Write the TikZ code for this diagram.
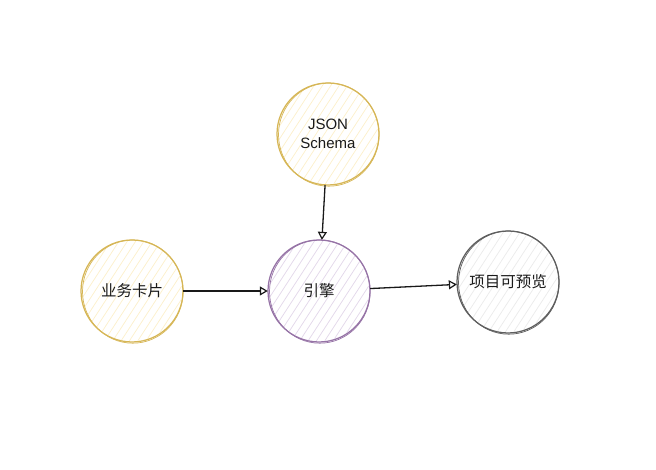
\documentclass[tikz,border=0pt]{standalone}
\usepackage{fontspec}
\setmainfont{Liberation Sans}
\newfontfamily\cjk{Noto Sans CJK SC}
\usetikzlibrary{arrows.meta,calc}
\definecolor{ystroke}{HTML}{D6B656}
\definecolor{yhatch}{HTML}{FCF0CC}
\definecolor{pstroke}{HTML}{9673A6}
\definecolor{phatch}{HTML}{E3D8EA}
\definecolor{gstroke}{HTML}{5E5E5E}
\definecolor{ghatch}{HTML}{EBEBEB}
\definecolor{txt}{HTML}{1A1A1A}
\tikzset{
  circ/.style={circle, minimum size=102pt, inner sep=0pt, align=center, text=txt},
  latin/.style={font=\fontsize{15}{18.5}\selectfont},
  han/.style={font=\cjk\fontsize{15.5}{18}\selectfont},
  conn/.style={draw=black!90, line width=1.3pt, -{Triangle[open,length=8pt,width=9pt,line width=1.2pt]}},
}
\newcommand\skcirc[7]{%
  \begin{scope}
    \clip (#2,#3) circle (50pt);
    \begin{scope}[shift={(#2,#3)}, rotate=57]
      \foreach \k in {-60,-53,...,60} \draw[#5, line width=0.75pt] (-60,\k) -- (60,\k);
    \end{scope}
  \end{scope}
  \draw[#4, line width=1.25pt] (#2,#3) circle (51pt);
  \draw[#4, line width=0.7pt] ($(#2,#3)+(0.8,-0.6)$) ellipse (50.3pt and 51.6pt);
  \node[circ, #6] (#1) at (#2,#3) {#7};
}
\begin{document}
\begin{tikzpicture}[x=1pt,y=1pt]
\useasboundingbox (0,0) rectangle (656,470);
\skcirc{js}{328}{336}{ystroke}{yhatch}{latin}{JSON\\Schema}
\skcirc{card}{132}{179}{ystroke}{yhatch}{han}{业务卡片}
\skcirc{eng}{319}{179}{pstroke}{phatch}{han}{引擎}
\skcirc{prev}{508}{188}{gstroke}{ghatch}{han}{项目可预览}
\draw[conn] (js) -- (eng);
\draw[conn] (card) -- (eng);
\draw[conn] (eng) -- (prev);
\end{tikzpicture}
\end{document}
